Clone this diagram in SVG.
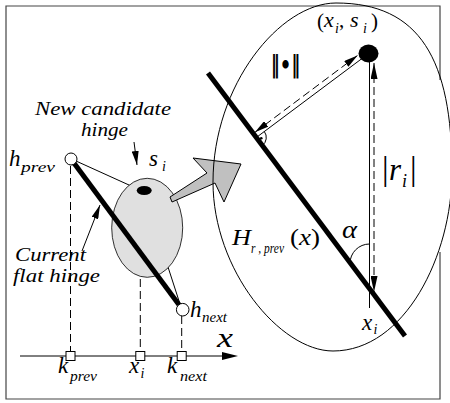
<svg xmlns="http://www.w3.org/2000/svg" width="450" height="403" viewBox="0 0 450 403">
<style>
.t{font-family:"Liberation Serif","DejaVu Serif",serif;font-style:italic;fill:#000}
.u{font-family:"Liberation Serif","DejaVu Serif",serif;font-style:normal;fill:#000}
.thin{fill:none;stroke:#000;stroke-width:1}
.dash{fill:none;stroke:#000;stroke-width:1;stroke-dasharray:8,4}
.thick{fill:none;stroke:#000;stroke-width:5;stroke-linecap:butt}
.box{fill:#fff;stroke:#000;stroke-width:1}
</style>
<defs>
<marker id="ah" viewBox="0 0 14 7" refX="14" refY="3.5" markerWidth="14" markerHeight="7" markerUnits="userSpaceOnUse" orient="auto-start-reverse">
<path d="M0,0 L14,3.5 L0,7 Z" fill="#000"/>
</marker>
<marker id="ahl" viewBox="0 0 16 7" refX="16" refY="3.5" markerWidth="16" markerHeight="7" markerUnits="userSpaceOnUse" orient="auto-start-reverse">
<path d="M0,0 L16,3.5 L0,7 Z" fill="#000"/>
</marker>
</defs>
<rect width="450" height="403" fill="#fff"/>
<path id="frame" d="M440,80 V6 H6 V399 H440 V252" fill="none" stroke="#444" stroke-width="1.2"/>

<g id="connectors">
<line x1="20" y1="356" x2="224" y2="356" class="thin"/>
<path d="M238,356 L222,352 L222,360 Z" fill="#000"/>
<line x1="70.5" y1="166" x2="70.5" y2="351" class="dash"/>
<line x1="140.3" y1="195" x2="140.3" y2="351" class="dash"/>
<line x1="181.7" y1="316" x2="181.7" y2="351" class="dash"/>
<line x1="76" y1="161" x2="140" y2="190" class="thin" stroke-width="0.8"/>
<line x1="144" y1="193" x2="180" y2="304" class="thin" stroke-width="0.8"/>
<line x1="134" y1="142" x2="137" y2="165" class="thin" marker-end="url(#ah)"/>
<line x1="82" y1="251" x2="100" y2="205" class="thin" marker-end="url(#ah)"/>
</g>

<g id="candidate-region">
<ellipse cx="147.2" cy="227.8" rx="35.5" ry="49.5" fill="#e0e0e0" stroke="#000" stroke-width="0.8"/>
<ellipse cx="144.2" cy="190.5" rx="7.5" ry="4.5" fill="#000"/>
</g>

<g id="flat-hinge">
<line x1="71" y1="159" x2="182.7" y2="309.7" class="thick" stroke-width="5.5"/>
<circle cx="71" cy="159" r="6" class="box" stroke-width="1.5"/>
<circle cx="182.7" cy="309.7" r="6.3" class="box" stroke-width="1.5"/>
</g>

<g id="axis-marks">
<rect x="66" y="351.5" width="9" height="9" class="box"/>
<rect x="135.8" y="351.5" width="9" height="9" class="box"/>
<rect x="177.2" y="351.5" width="9" height="9" class="box"/>
</g>

<g id="zoom-arrow">
<path d="M170,197 L207,173 L193,158 L241,164 L224,202 L215,183 L172,202 Z" fill="#c0c0c0" stroke="#000" stroke-width="1"/>
</g>

<g id="detail">
<path d="M336,3 C420,3 452,60 452,172 C452,255 405,351 333,351 C280,351 213,270 213,182 C213,85 280,3 336,3 Z" fill="none" stroke="#000" stroke-width="1"/>
<line x1="208" y1="73" x2="405" y2="336" class="thick" stroke-width="5.5"/>
<ellipse cx="368.5" cy="53.5" rx="10" ry="9" fill="#000"/>
<line x1="364" y1="57" x2="256.3" y2="137.5" class="thin"/>
<line x1="255" y1="132.3" x2="357.5" y2="55.5" class="dash" marker-start="url(#ah)" marker-end="url(#ah)"/>
<path d="M264.3,131.5 A10,10 0 0 1 262.3,145.5" class="thin"/>
<circle cx="261.3" cy="138.2" r="1.3" fill="#000"/>
<line x1="369.5" y1="62" x2="369.5" y2="308" class="thin"/>
<line x1="374" y1="63" x2="374" y2="292" class="dash" marker-start="url(#ahl)" marker-end="url(#ahl)"/>
<path d="M350,263.5 A19.5,19.5 0 0 1 369.5,244" class="thin"/>
</g>

<g id="labels">
<text class="t" x="35" y="115" font-size="19" textLength="136" lengthAdjust="spacingAndGlyphs">New candidate</text>
<text class="t" x="81" y="136" font-size="19" textLength="47" lengthAdjust="spacingAndGlyphs">hinge</text>
<text class="t" x="9" y="166" font-size="23">h</text>
<text class="t" x="21" y="172" font-size="14" textLength="34" lengthAdjust="spacingAndGlyphs">prev</text>
<text class="t" x="149" y="166" font-size="23">s</text>
<text class="t" x="162" y="171" font-size="14">i</text>
<text class="t" x="15" y="261" font-size="19" textLength="71" lengthAdjust="spacingAndGlyphs">Current</text>
<text class="t" x="13" y="282" font-size="19" textLength="87" lengthAdjust="spacingAndGlyphs">flat hinge</text>
<text class="t" x="190" y="317" font-size="23">h</text>
<text class="t" x="202" y="322" font-size="14" textLength="25" lengthAdjust="spacingAndGlyphs">next</text>
<text class="t" x="217" y="347" font-size="27" textLength="16" lengthAdjust="spacingAndGlyphs">x</text>
<text class="t" x="58" y="373" font-size="23">k</text>
<text class="t" x="70" y="381" font-size="14" textLength="27" lengthAdjust="spacingAndGlyphs">prev</text>
<text class="t" x="129" y="373" font-size="23">x</text>
<text class="t" x="140.5" y="378" font-size="14">i</text>
<text class="t" x="167" y="373" font-size="23">k</text>
<text class="t" x="180" y="381" font-size="14" textLength="27" lengthAdjust="spacingAndGlyphs">next</text>

<text class="u" x="317" y="28" font-size="21">(</text>
<text class="t" x="324" y="27" font-size="22">x</text>
<text class="t" x="335" y="33" font-size="14">i</text>
<text class="u" x="339" y="27" font-size="21">,</text>
<text class="t" x="350" y="27" font-size="22">s</text>
<text class="t" x="363" y="33" font-size="14">i</text>
<text class="u" x="371" y="28" font-size="21">)</text>

<text x="361" y="73" font-size="24" font-weight="bold" transform="scale(0.75,1)" style="font-family:'DejaVu Serif',serif;fill:#000">‖•‖</text>

<text class="u" x="382" y="180" font-size="33">|</text>
<text class="t" x="389" y="180" font-size="31">r</text>
<text class="t" x="402" y="187" font-size="18">i</text>
<text class="u" x="410" y="180" font-size="33">|</text>

<text class="t" x="232" y="245" font-size="23" textLength="19" lengthAdjust="spacingAndGlyphs">H</text>
<text class="t" x="251" y="253" font-size="14" textLength="33" lengthAdjust="spacingAndGlyphs">r , prev</text>
<text class="u" x="290" y="245" font-size="23" textLength="30" lengthAdjust="spacingAndGlyphs">(<tspan class="t">x</tspan>)</text>

<text class="t" x="342" y="238" font-size="25" textLength="15" lengthAdjust="spacingAndGlyphs">α</text>
<text class="t" x="362" y="330" font-size="23">x</text>
<text class="t" x="373.5" y="334" font-size="14">i</text>
</g>
</svg>
